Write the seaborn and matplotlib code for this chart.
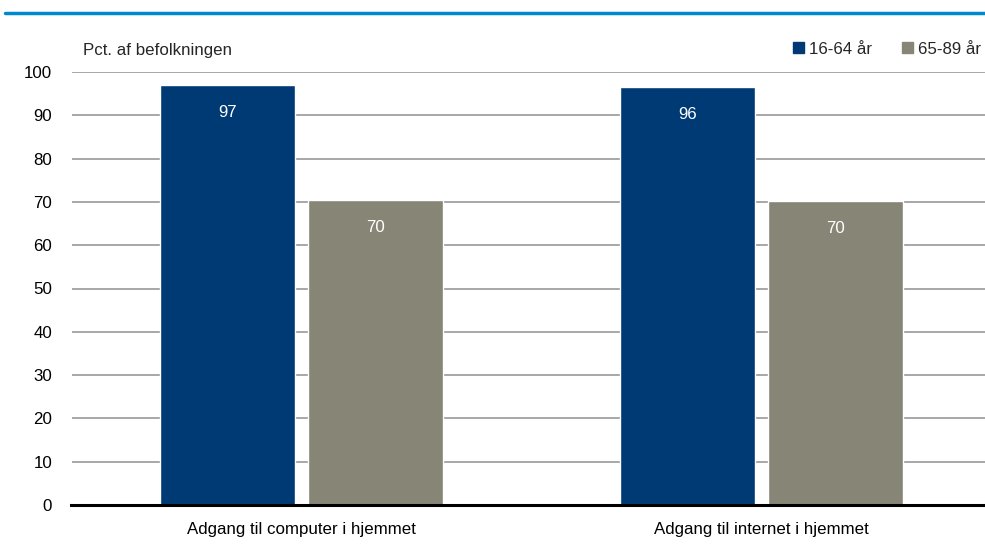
import matplotlib
matplotlib.use('Agg')
import matplotlib.pyplot as plt
import pandas as pd
import seaborn as sns

# data
categories = ['Adgang til computer i hjemmet', 'Adgang til internet i hjemmet']
groups = ['16-64 år', '65-89 år']
vals_16_64 = [97.0, 96.5]
vals_65_89 = [70.4, 70.1]
yticks = list(range(0, 101, 10))

sns.set_style('white')
plt.rcParams['font.family'] = ['Liberation Sans', 'DejaVu Sans']
FS = 12.2

df = pd.DataFrame({
    'Kategori': categories * 2,
    'Gruppe': [groups[0]] * 2 + [groups[1]] * 2,
    'Pct': vals_16_64 + vals_65_89,
})

colors = ['#003A75', '#878575']

fig = plt.figure(figsize=(9.85, 5.46), dpi=100)
ax = fig.add_axes([71.5 / 985, 41 / 546, 920 / 985, 433 / 546])

sns.barplot(data=df, x='Kategori', y='Pct', hue='Gruppe', palette=colors,
            width=0.643, gap=0.088, saturation=1, ax=ax, legend=False, zorder=3)

ax.set_ylim(0, 100)
ax.set_xlim(-0.5, 1.5)
ax.set_yticks(yticks)
ax.yaxis.grid(True, color='#A0A0A0', lw=1.3, zorder=0)
ax.set_axisbelow(True)
for s in ['left', 'right', 'top']:
    ax.spines[s].set_visible(False)
ax.spines['bottom'].set_color('black')
ax.spines['bottom'].set_linewidth(2.2)
ax.spines['bottom'].set_zorder(5)
ax.tick_params(axis='both', length=0, labelsize=FS, colors='black')
ax.tick_params(axis='y', pad=14)
ax.tick_params(axis='x', pad=12)
ax.set_xlabel('')
ax.set_ylabel('')

# value labels inside the bars
for cont in ax.containers:
    ax.bar_label(cont, labels=[f'{v.get_height():.0f}' for v in cont],
                 label_type='edge', padding=-25, color='white', fontsize=FS)

fig.text(83 / 985, 1 - 50 / 546, 'Pct. af befolkningen', fontsize=FS,
         va='center', ha='left')

# legend at top right
handles = [plt.Rectangle((0, 0), 1, 1, color=c) for c in colors]
fig.legend(handles, groups, loc='center right', bbox_to_anchor=(981 / 985, 1 - 49 / 546),
           ncol=2, frameon=False, fontsize=FS, handlelength=0.65, handleheight=0.65,
           handletextpad=0.3, columnspacing=1.75, borderaxespad=0, borderpad=0)

# blue rule at the top
fig.add_artist(plt.Line2D([5 / 985, 1], [1 - 12.5 / 546] * 2, color='#0088CC', lw=2.5))

fig.savefig('out.png', dpi=100)
